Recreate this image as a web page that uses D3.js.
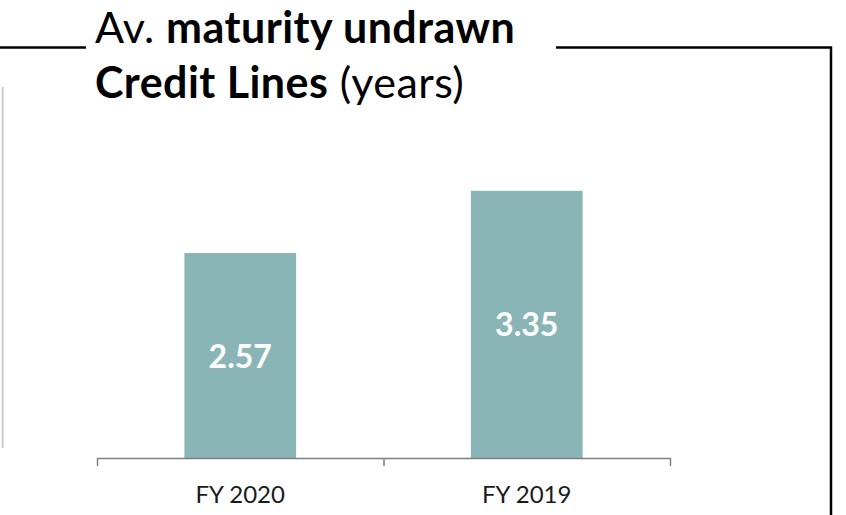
<!DOCTYPE html>
<html>
<head>
<meta charset="utf-8">
<script src="https://cdn.jsdelivr.net/npm/d3@7"></script>
<style>
  html, body { margin: 0; padding: 0; background: #fff; }
  svg { display: block; font-family: Lato, "Open Sans", sans-serif; }
</style>
</head>
<body>
<svg id="chart" width="846" height="515"></svg>
<script>
// Chart data
const categories = ["FY 2020", "FY 2019"];
const values = [2.57, 3.35];
const valueLabels = ["2.57", "3.35"];
const titleLine1 = [{ text: "Av. ", bold: false }, { text: "maturity undrawn", bold: true }];
const titleLine2 = [{ text: "Credit Lines", bold: true }, { text: " (years)", bold: false }];

const W = 846, H = 515;
const svg = d3.select("#chart");

const barColor = "#8ab5b6";
const baseY = 458;

// Scales
const x = d3.scaleBand().domain(categories).range([97, 670]).paddingInner(0).paddingOuter(0);
const y = d3.scaleLinear().domain([0, 4]).range([baseY, 139]);
const barW = x.bandwidth() * 0.39;

// Frame lines around the panel
svg.append("line").attr("x1", 0).attr("x2", 86).attr("y1", 47.5).attr("y2", 47.5)
  .attr("stroke", "#000").attr("stroke-width", 2.5);
svg.append("path").attr("d", `M556,47.5 H831 V${H}`)
  .attr("fill", "none").attr("stroke", "#000").attr("stroke-width", 2.5);
svg.append("line").attr("x1", 2.7).attr("x2", 2.7).attr("y1", 87).attr("y2", 448)
  .attr("stroke", "#cdcdcd").attr("stroke-width", 2);

// Title (mixed weights)
function titleLine(parts, yPos) {
  const t = svg.append("text").attr("x", 95).attr("y", yPos)
    .attr("xml:space", "preserve")
    .attr("font-size", 43).attr("letter-spacing", 0.45).attr("fill", "#000");
  parts.forEach(p => t.append("tspan").attr("font-weight", p.bold ? 700 : 400).text(p.text));
  return t;
}
titleLine(titleLine1, 42.5);
titleLine(titleLine2, 98);

// Bars
const bars = svg.append("g");
bars.selectAll("rect").data(values).join("rect")
  .attr("x", (d, i) => x(categories[i]) + (x.bandwidth() - barW) / 2)
  .attr("y", d => y(d))
  .attr("width", barW)
  .attr("height", d => baseY - y(d))
  .attr("fill", barColor);

// Value labels centred in bars
bars.selectAll("text").data(values).join("text")
  .attr("x", (d, i) => x(categories[i]) + x.bandwidth() / 2)
  .attr("y", d => (y(d) + baseY) / 2 + 12)
  .attr("text-anchor", "middle")
  .attr("font-size", 32).attr("font-weight", 700).attr("fill", "#fff")
  .text((d, i) => valueLabels[i]);

// Category axis with ticks between categories
const edge = d3.scaleLinear().domain([0, categories.length]).range(x.range());
const axis = svg.append("g").attr("transform", `translate(0,${baseY})`)
  .call(d3.axisBottom(edge).tickValues(d3.range(categories.length + 1)).tickFormat("").tickSize(8).tickSizeOuter(0));
axis.selectAll("path, line").attr("stroke", "#7f7f7f").attr("stroke-width", 1.5);

svg.append("g").selectAll("text").data(categories).join("text")
  .attr("x", d => x(d) + x.bandwidth() / 2)
  .attr("y", 503)
  .attr("text-anchor", "middle")
  .attr("font-size", 24).attr("fill", "#1a1a1a")
  .text(d => d);
</script>
</body>
</html>
